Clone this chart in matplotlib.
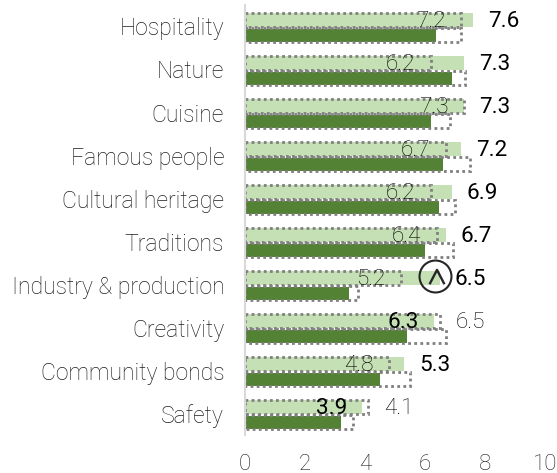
import matplotlib
matplotlib.use("Agg")
import matplotlib.pyplot as plt
import numpy as np

plt.rcParams['font.family'] = ['Roboto', 'DejaVu Sans']

categories = ["Hospitality", "Nature", "Cuisine", "Famous people", "Cultural heritage",
              "Traditions", "Industry & production", "Creativity", "Community bonds", "Safety"]
light = [7.6, 7.3, 7.3, 7.2, 6.9, 6.7, 6.5, 6.3, 5.3, 3.9]
dark = [6.35, 6.9, 6.2, 6.6, 6.45, 6.0, 3.45, 5.4, 4.5, 3.2]
dotted_top = [7.2, 6.2, 7.3, 6.7, 6.2, 6.4, 5.2, 6.5, 4.8, 4.1]
dotted_low = [7.2, 7.33, 6.83, 7.5, 7.0, 6.93, 3.77, 6.7, 5.5, 3.6]
ticks = [0, 2, 4, 6, 8, 10]

W, H = 557, 473
fig = plt.figure(figsize=(W / 100, H / 100), dpi=100)
ax = fig.add_axes([245 / W, 1 - 435 / H, 300 / W, 430 / H])

y = np.arange(len(categories))
dots = (0, (1, 1.2))
ax.barh(y - 0.15, light, 0.33, color="#c5e0b4", zorder=1)
ax.barh(y + 0.21, dark, 0.31, color="#548235", zorder=1)
ax.barh(y - 0.15, dotted_top, 0.33, fill=False, edgecolor="#7f7f7f", linestyle=dots, linewidth=2, zorder=2)
ax.barh(y + 0.2, dotted_low, 0.33, fill=False, edgecolor="#7f7f7f", linestyle=dots, linewidth=2, zorder=2)

for i in y:
    l, d = light[i], dotted_top[i]
    if l >= d:
        off_l, off_d = 22, -22
    else:
        off_l, off_d = -22, 22
    ax.annotate(f"{l}", (l, i - 0.12), xytext=(off_l, 0), textcoords="offset points", ha="center", va="center",
                fontsize=16.2, color="black", zorder=4)
    ax.annotate(f"{d}", (d, i - 0.12), xytext=(off_d, 0), textcoords="offset points", ha="center", va="center",
                fontsize=16.2, color="black", fontweight="light", zorder=3)

# circled arrow on Industry & production
ax.plot([6.33], [5.8], marker="o", ms=23, mfc="none", mec="#262626", mew=1.5, zorder=5, clip_on=False)
ax.plot([6.17, 6.4, 6.63], [5.97, 5.66, 5.97], color="#262626", lw=1.7, zorder=5)

ax.set_xlim(0, 10)
ax.set_ylim(len(categories) - 0.5, -0.5)
ax.set_yticks(y)
ax.set_yticklabels(categories, fontsize=16.6, color="#1f1f1f", fontweight="light")
ax.set_xticks(ticks)
ax.set_xticklabels([str(t) for t in ticks], fontsize=16, color="#1f1f1f", fontweight="light")
ax.tick_params(length=0)
ax.tick_params(axis="y", pad=15)
ax.tick_params(axis="x", pad=13.5)
for s in ["top", "right", "bottom"]:
    ax.spines[s].set_visible(False)
ax.spines["left"].set_color("#d9d9d9")
ax.spines["left"].set_linewidth(1.5)

fig.savefig("out.png", dpi=100)
